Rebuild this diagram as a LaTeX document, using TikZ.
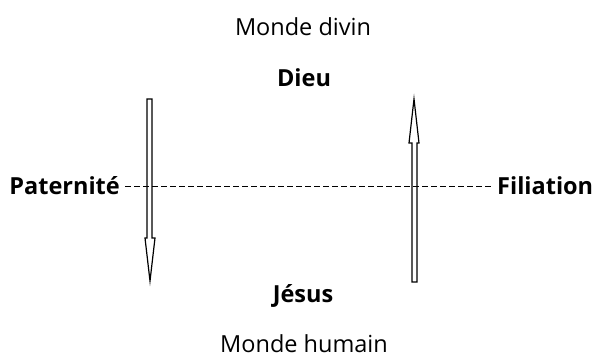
\documentclass[tikz,border=0pt]{standalone}
\usepackage{fontspec}
\setmainfont{Open Sans}
\usepackage{tikz}
\usetikzlibrary{positioning,calc}

\begin{document}
\begin{tikzpicture}[x=1pt,y=-1pt,
  monde/.style={font=\fontsize{23.5}{28}\selectfont,inner sep=0pt},
  pole/.style={font=\fontsize{23.5}{28}\selectfont\bfseries,inner sep=0pt},
  blockarr/.style={draw,fill=white,line width=1.2pt,line join=miter},
  lien/.style={dashed,dash pattern=on 6pt off 3pt,line width=0.8pt}
]
\useasboundingbox (0,0) rectangle (596,358);
% Mondes et poles
\node[monde] (divin)  at (303, 27)  {Monde divin};
\node[pole]  (dieu)   at (304, 78)  {Dieu};
\node[pole]  (jesus)  at (303, 296) {Jésus};
\node[monde] (humain) at (304, 344) {Monde humain};
\node[pole,anchor=east] (pat) at (120,186) {Paternité};
\node[pole,anchor=west] (fil) at (497,186) {Filiation};

% Fleche descendante (paternite)
\draw[blockarr] (147,99) -- (152,99) -- (152,238) -- (155,238) -- (150,281)
  -- (145,238) -- (147,238) -- cycle;
% Fleche montante (filiation)
\draw[blockarr] (412,282) -- (417,282) -- (417,143) -- (419,143) -- (414,99)
  -- (409,143) -- (412,143) -- cycle;

% Ligne de relation
\draw[lien] ([xshift=5pt]pat.east) -- ([xshift=-5pt]fil.west);
\end{tikzpicture}
\end{document}
